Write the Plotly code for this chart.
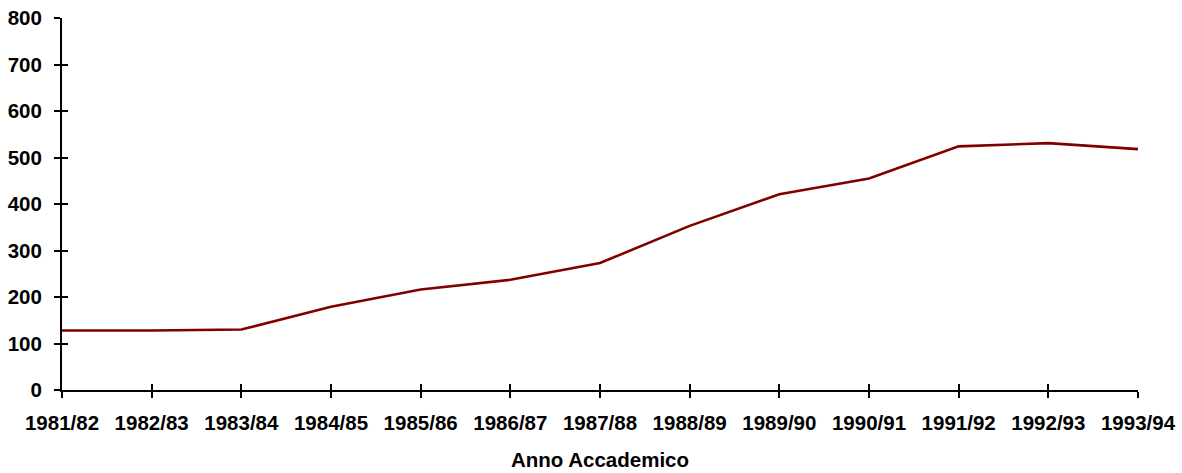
import plotly.graph_objects as go

anni = ["1981/82", "1982/83", "1983/84", "1984/85", "1985/86", "1986/87", "1987/88",
        "1988/89", "1989/90", "1990/91", "1991/92", "1992/93", "1993/94"]
valori = [128, 128, 130, 179, 216, 237, 273, 353, 421, 455, 524, 531, 518]

y_ticks = [0, 100, 200, 300, 400, 500, 600, 700, 800]

FAMIGLIA = "Liberation Sans, Arial, sans-serif"
tick_font = dict(family=FAMIGLIA, size=20.5, color="black", weight="bold")

fig = go.Figure()
fig.add_trace(go.Scatter(
    x=list(range(len(anni))), y=valori, mode="lines",
    line=dict(color="#800000", width=2.6),
    hoverinfo="skip", showlegend=False,
))

axis_common = dict(showgrid=False, zeroline=False, showline=True, automargin=False,
                   linecolor="black", linewidth=2, tickcolor="black", tickwidth=2)

fig.update_layout(
    width=1182, height=473,
    margin=dict(l=62, r=44, t=18, b=83),
    paper_bgcolor="white", plot_bgcolor="white",
    font=dict(family=FAMIGLIA, size=20.5, color="black"),
    xaxis=dict(
        **axis_common,
        range=[0, len(anni) - 1],
        tickmode="array", tickvals=list(range(len(anni))), ticktext=anni,
        ticks="outside", ticklen=6, ticklabelstandoff=7,
        tickfont=tick_font,
        title=dict(text="<b>Anno Accademico</b>", standoff=20,
                   font=dict(family=FAMIGLIA, size=20.5, color="black")),
    ),
    yaxis=dict(
        **axis_common,
        range=[0, 800],
        tickmode="array", tickvals=y_ticks,
        ticks="outside", ticklen=6, ticklabelstandoff=8,
        tickfont=tick_font,
    ),
    # overlay axes carrying the inner half of the crossing tick marks
    xaxis2=dict(
        **axis_common, overlaying="x", anchor="y", side="bottom",
        range=[0, len(anni) - 1], tickmode="array", tickvals=list(range(len(anni))),
        ticks="inside", ticklen=6, showticklabels=False,
    ),
    yaxis2=dict(
        **axis_common, overlaying="y", anchor="x", side="left",
        range=[0, 800], tickmode="array", tickvals=y_ticks,
        ticks="inside", ticklen=6, showticklabels=False,
    ),
)

# invisible trace to activate the overlay axes
fig.add_trace(go.Scatter(x=[None], y=[None], xaxis="x2", yaxis="y2",
                         showlegend=False, hoverinfo="skip"))

fig.write_html("out.html")
